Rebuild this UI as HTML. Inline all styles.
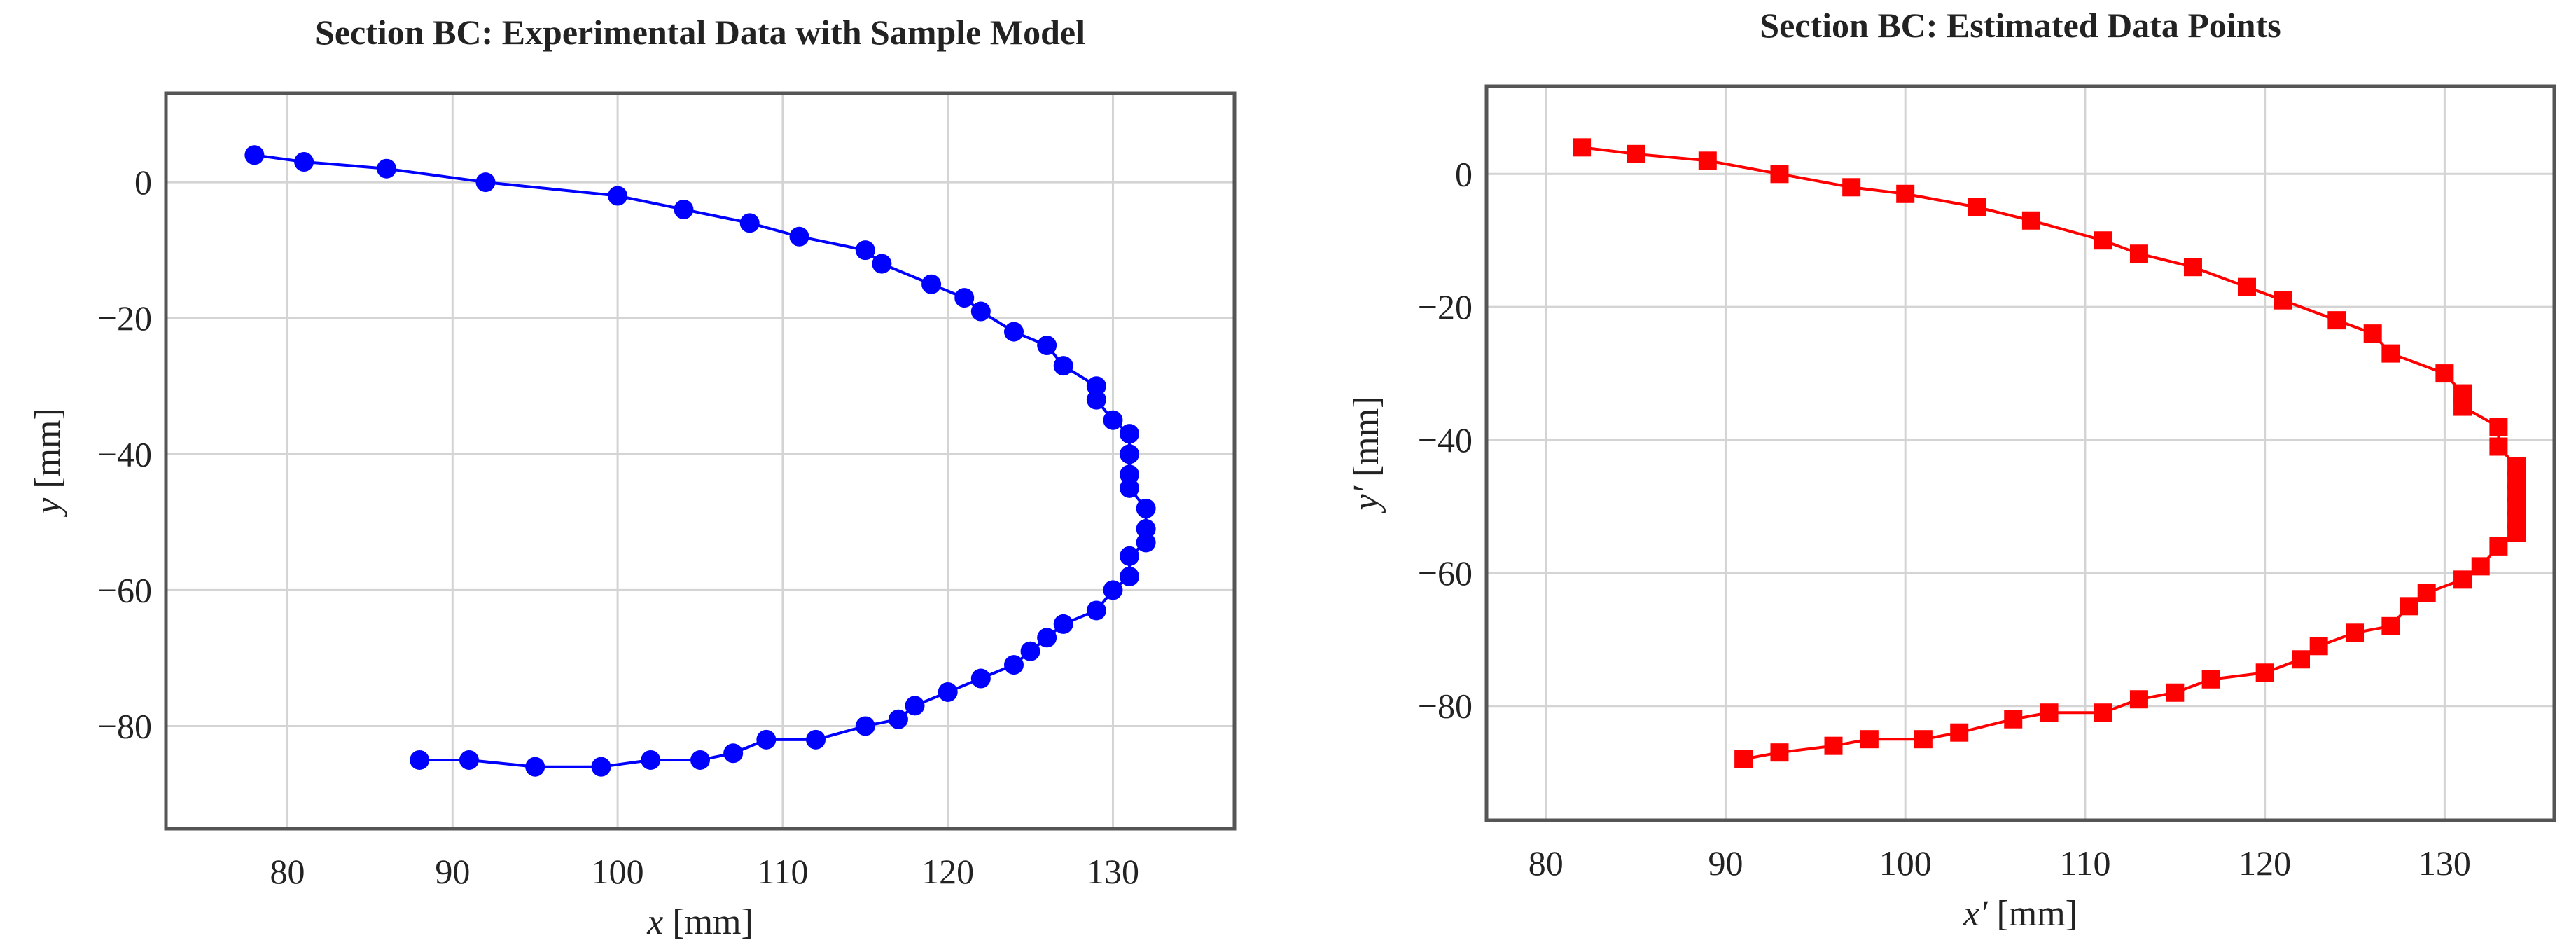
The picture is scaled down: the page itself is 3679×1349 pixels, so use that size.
<!DOCTYPE html>
<html><head><meta charset="utf-8">
<style>
html,body{margin:0;padding:0;background:#fff;}
svg{display:block;}
text{font-family:"Liberation Serif",serif;fill:#222;}
</style></head>
<body>
<svg id="chart" width="3679" height="1349" viewBox="0 0 3679 1349" xmlns="http://www.w3.org/2000/svg"></svg>
<script>
const leftX = [78,81,86,92,100,104,108,111,115,116,119,121,122,124,126,127,129,129,130,131,131,131,131,132,132,132,131,131,130,129,127,126,125,124,122,120,118,117,115,112,109,107,105,102,99,95,91,88];
const leftY = [4,3,2,0,-2,-4,-6,-8,-10,-12,-15,-17,-19,-22,-24,-27,-30,-32,-35,-37,-40,-43,-45,-48,-51,-53,-55,-58,-60,-63,-65,-67,-69,-71,-73,-75,-77,-79,-80,-82,-82,-84,-85,-85,-86,-86,-85,-85];
const rightX = [82,85,89,93,97,100,104,107,111,113,116,119,121,124,126,127,130,131,131,133,133,134,134,134,134,134,134,133,132,131,129,128,127,125,123,122,120,117,115,113,111,108,106,103,101,98,96,93,91];
const rightY = [4,3,2,0,-2,-3,-5,-7,-10,-12,-14,-17,-19,-22,-24,-27,-30,-33,-35,-38,-41,-44,-46,-48,-50,-52,-54,-56,-59,-61,-63,-65,-68,-69,-71,-73,-75,-76,-78,-79,-81,-81,-82,-84,-85,-85,-86,-87,-88];
const xTicks = [80,90,100,110,120,130];
const yTicks = [0,-20,-40,-60,-80];
const yTickLabels = ["0","\u221220","\u221240","\u221260","\u221280"];

const NS="http://www.w3.org/2000/svg";
const svg=document.getElementById('chart');
function mk(tag,attrs,parent){const e=document.createElementNS(NS,tag);for(const k in attrs)e.setAttribute(k,attrs[k]);(parent||svg).appendChild(e);return e;}

function panel(cfg){
  const g=mk('g',{});
  
  
  const {L,T,R,B,x0,x1,y0,y1}=cfg;
  const sx=v=>L+(v-x0)/(x1-x0)*(R-L);
  const sy=v=>T+(y0-v)/(y0-y1)*(B-T);
  // grid
  xTicks.forEach(v=>{
    const l=mk('line',{x1:sx(v),x2:sx(v),y1:T,y2:B,stroke:'#d4d4d4','stroke-width':3},g);
    
    
    const t=mk('text',{x:sx(v),y:B+78,'text-anchor':'middle','font-size':50},g);
    t.textContent=v;
    
    
  });
  yTicks.forEach((v,i)=>{
    const l=mk('line',{x1:L,x2:R,y1:sy(v),y2:sy(v),stroke:'#d4d4d4','stroke-width':3},g);
    
    
    const t=mk('text',{x:L-20,y:sy(v)+17,'text-anchor':'end','font-size':50},g);
    t.textContent=yTickLabels[i];
    
    
  });
  const fr=mk('rect',{x:L,y:T,width:R-L,height:B-T,fill:'none',stroke:'#555','stroke-width':5},g);
  
  
  // series
  const pts=cfg.xs.map((v,i)=>sx(v)+','+sy(cfg.ys[i])).join(' ');
  const pl=mk('polyline',{points:pts,fill:'none',stroke:cfg.color,'stroke-width':4},g);
  
  
  cfg.xs.forEach((v,i)=>{
    let m;
    if(cfg.marker==='circle') m=mk('circle',{cx:sx(v),cy:sy(cfg.ys[i]),r:14,fill:cfg.color},g);
    else m=mk('rect',{x:sx(v)-13,y:sy(cfg.ys[i])-13,width:26,height:26,fill:cfg.color},g);
    
    
  });
  const tt=mk('text',{x:(L+R)/2,y:T-70,'text-anchor':'middle','font-size':50,'font-weight':'bold'},g);
  tt.textContent=cfg.title;
  
  
  const xl=mk('text',{x:(L+R)/2,y:B+150,'text-anchor':'middle','font-size':52},g);
  xl.innerHTML='<tspan font-style="italic">'+cfg.xlab+'</tspan> [mm]';
  
  
  const cy=(T+B)/2;
  const yl=mk('text',{x:cfg.ylx,y:cy,'text-anchor':'middle','font-size':52,transform:'rotate(-90 '+cfg.ylx+' '+cy+')'},g);
  yl.innerHTML='<tspan font-style="italic">'+cfg.ylab+'</tspan> [mm]';
  
  
}
panel({name:'left-chart',L:237,T:133,R:1763,B:1183,x0:72.64,x1:137.36,y0:13.1,y1:-95.1,
  xs:leftX,ys:leftY,color:'#0000ff',marker:'circle',
  title:'Section BC: Experimental Data with Sample Model',xlab:'x',ylab:'y',ylx:85});
panel({name:'right-chart',L:2123,T:123,R:3648,B:1171,x0:76.7,x1:136.1,y0:13.2,y1:-97.2,
  xs:rightX,ys:rightY,color:'#ff0000',marker:'square',
  title:'Section BC: Estimated Data Points',xlab:'x\u2032',ylab:'y\u2032',ylx:1968});
</script>
</body></html>
